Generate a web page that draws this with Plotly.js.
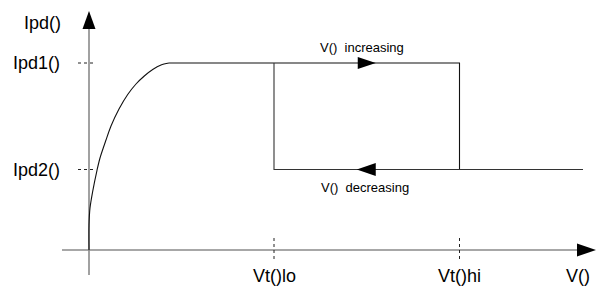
<!DOCTYPE html>
<html><head><meta charset="utf-8">
<script src="https://cdn.plot.ly/plotly-3.0.1.min.js"></script>
<style>html,body{margin:0;padding:0;background:#fff}#chart{width:599px;height:286px}</style>
</head><body><div id="chart"></div>
<script>
// ---- data ----
const curveV = [0, 0, 1, 3.7, 8, 11, 17, 22, 30, 38.7, 47, 55.3, 63.7, 72, 80];
const curveI = [0, 25, 42, 58.7, 79.7, 92, 110, 124, 141, 155.5, 166, 174, 180.5, 185, 187];
const levelNames = ['Ipd1()', 'Ipd2()'];
const levelValues = [187, 80.5];
const thresholdNames = ['Vt()lo', 'Vt()hi'];
const thresholdValues = [185, 370.5];
const vEnd = 494;
const axisNames = ['V()', 'Ipd()'];
const branchNames = ['V()  increasing', 'V()  decreasing'];

// ---- layout config ----
const FONT = 'Liberation Sans, Arial, sans-serif';
const ink = '#111111';
const axisGray = '#8a8a8a';
const xAxisSpan = [-27, 488], xArrowTip = 507;
const yAxisSpan = [-25, 221], yArrowTip = 239;

const [Ipd1, Ipd2] = levelValues;
const [VtLo, VtHi] = thresholdValues;
const mid = (VtLo + VtHi) / 2;

function tri(tipX, tipY, dirX, dirY, len, half) {
  const bx = tipX - dirX * len, by = tipY - dirY * len;
  const px = -dirY, py = dirX;
  return {
    x: [tipX, bx + px * half, bx - px * half, tipX],
    y: [tipY, by + py * half, by - py * half, tipY]
  };
}
function fillTrace(t) {
  return {type: 'scatter', mode: 'lines', x: t.x, y: t.y, fill: 'toself',
    fillcolor: '#000', line: {width: 0, color: '#000'}, hoverinfo: 'skip', showlegend: false};
}

const traces = [
  {type: 'scatter', mode: 'lines', x: [xAxisSpan[0], xAxisSpan[1]], y: [0, 0],
   line: {color: axisGray, width: 1.6}, hoverinfo: 'skip', showlegend: false},
  {type: 'scatter', mode: 'lines', x: [0, 0], y: [yAxisSpan[0], yAxisSpan[1]],
   line: {color: axisGray, width: 1.6}, hoverinfo: 'skip', showlegend: false},
  {type: 'scatter', mode: 'lines', x: curveV, y: curveI,
   line: {color: ink, width: 1.1, shape: 'spline', smoothing: 0.8}, hoverinfo: 'skip', showlegend: false},
  {type: 'scatter', mode: 'lines', x: [curveV[curveV.length - 1], VtHi, VtHi], y: [Ipd1, Ipd1, Ipd2],
   line: {color: ink, width: 1.1}, hoverinfo: 'skip', showlegend: false},
  {type: 'scatter', mode: 'lines', x: [vEnd, VtLo, VtLo], y: [Ipd2, Ipd2, Ipd1],
   line: {color: '#333', width: 1.1}, hoverinfo: 'skip', showlegend: false},
  fillTrace(tri(xArrowTip, 0, 1, 0, 19, 6.5)),
  fillTrace(tri(0, yArrowTip, 0, 1, 18, 6.5)),
  fillTrace(tri(mid + 9, Ipd1, 1, 0, 18, 6)),
  fillTrace(tri(mid - 10, Ipd2, -1, 0, 19, 6.5))
];

const shapes = [];
levelValues.forEach(v => shapes.push({type: 'line', xref: 'x', yref: 'y', x0: -11, x1: 7, y0: v, y1: v,
  line: {color: '#222', width: 1, dash: 'dot'}}));
thresholdValues.forEach(v => shapes.push({type: 'line', xref: 'x', yref: 'y', x0: v, x1: v, y0: 12, y1: -9,
  line: {color: '#222', width: 1, dash: 'dot'}}));

const big = {family: FONT, size: 18, color: '#000'};
const small = {family: FONT, size: 13, color: '#000'};
const annotations = [];
levelNames.forEach((n, i) => annotations.push({x: -27, y: levelValues[i], xref: 'x', yref: 'y', text: n,
  showarrow: false, xanchor: 'right', yanchor: 'middle', font: big}));
thresholdNames.forEach((n, i) => annotations.push({x: thresholdValues[i], y: -26, xref: 'x', yref: 'y', text: n,
  showarrow: false, xanchor: 'center', yanchor: 'middle', font: big}));
annotations.push({x: 489, y: -26, xref: 'x', yref: 'y', text: axisNames[0], showarrow: false,
  xanchor: 'center', yanchor: 'middle', font: big});
annotations.push({x: -26, y: 227, xref: 'x', yref: 'y', text: axisNames[1], showarrow: false,
  xanchor: 'right', yanchor: 'middle', font: big});
annotations.push({x: mid - 5, y: Ipd1 + 16, xref: 'x', yref: 'y', text: branchNames[0], showarrow: false,
  xanchor: 'center', yanchor: 'middle', font: small});
annotations.push({x: mid - 2, y: Ipd2 - 17.5, xref: 'x', yref: 'y', text: branchNames[1], showarrow: false,
  xanchor: 'center', yanchor: 'middle', font: small});

const layout = {
  width: 599, height: 286,
  margin: {l: 0, r: 0, t: 0, b: 0, pad: 0},
  paper_bgcolor: '#fff', plot_bgcolor: '#fff',
  xaxis: {range: [-89, 510], visible: false, fixedrange: true},
  yaxis: {range: [-36, 250], visible: false, fixedrange: true},
  showlegend: false,
  shapes: shapes,
  annotations: annotations,
  font: {family: FONT}
};
Plotly.newPlot('chart', traces, layout, {displayModeBar: false, staticPlot: true});
</script></body></html>
